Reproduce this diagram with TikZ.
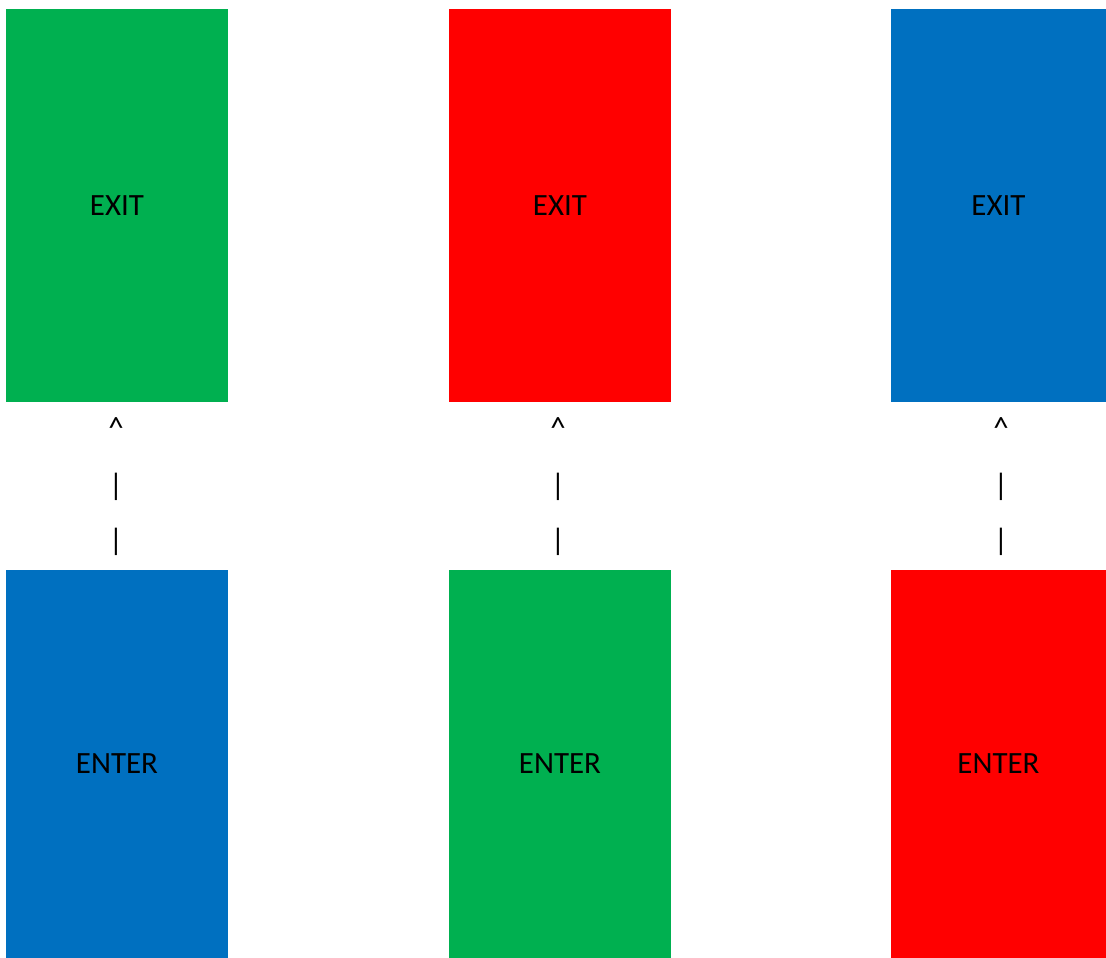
\documentclass[tikz,border=0pt]{standalone}
\usepackage{fontspec}
\setmainfont{Carlito}
\usepackage{xcolor}
\usetikzlibrary{positioning}
\definecolor{signgreen}{HTML}{00B050}
\definecolor{signred}{HTML}{FF0000}
\definecolor{signblue}{HTML}{0070C0}

\begin{document}
\begin{tikzpicture}[
    x=0.025cm, y=-0.025cm,
    panel/.style={inner sep=0pt, outer sep=0pt, font=\fontsize{22}{26}\selectfont},
    glyph/.style={inner sep=0pt, font=\fontsize{22}{26}\selectfont},
]
\useasboundingbox (0,0) rectangle (1106,958);
% exit panels
\node[panel, fill=signgreen, minimum width=5.55cm, minimum height=9.825cm] (exitA) at (117,205.5) {EXIT};
\node[panel, fill=signred,   minimum width=5.55cm, minimum height=9.825cm] (exitB) at (560,205.5) {EXIT};
\node[panel, fill=signblue,  minimum width=5.375cm, minimum height=9.825cm] (exitC) at (998.5,205.5) {EXIT};
% enter panels
\node[panel, fill=signblue,  minimum width=5.55cm, minimum height=9.7cm] (enterA) at (117,764) {ENTER};
\node[panel, fill=signgreen, minimum width=5.55cm, minimum height=9.7cm] (enterB) at (560,764) {ENTER};
\node[panel, fill=signred,   minimum width=5.375cm, minimum height=9.7cm] (enterC) at (998.5,764) {ENTER};
% text arrows
\foreach \col/\xx in {A/116, B/558, C/1001} {
  \node[glyph] (tip\col) at (\xx,428) {\textasciicircum};
  \node[glyph] (barU\col) at (\xx,487) {|};
  \node[glyph] (barL\col) at (\xx,542) {|};
}
\end{tikzpicture}
\end{document}
